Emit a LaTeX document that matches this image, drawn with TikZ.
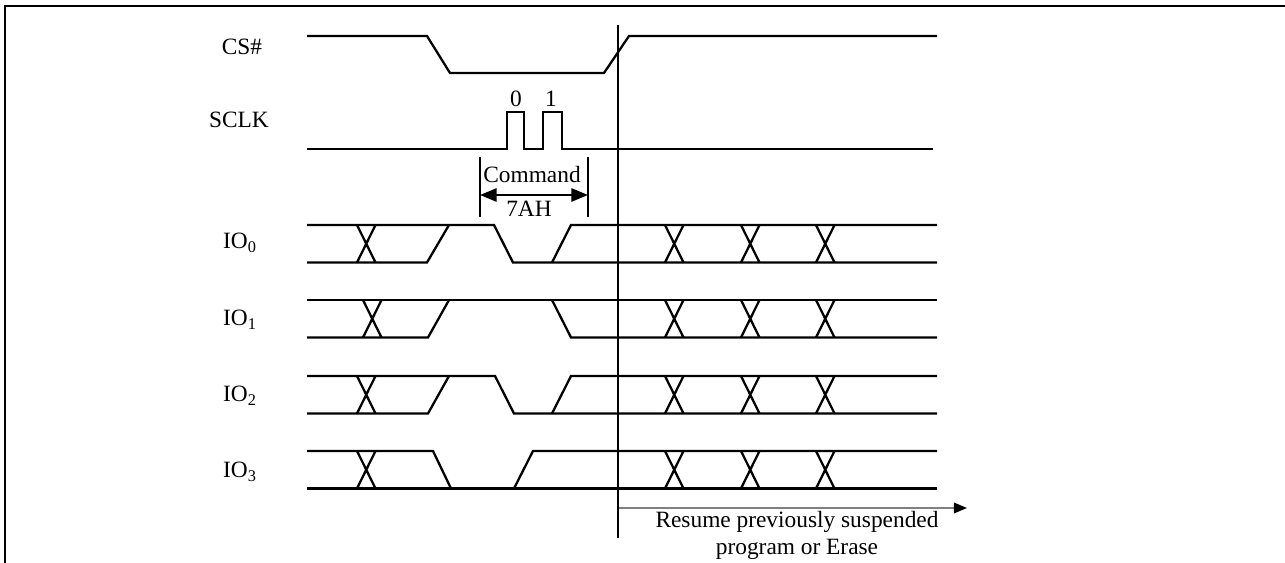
\documentclass[tikz,border=0pt]{standalone}
\usepackage{fontspec}
\setmainfont{Liberation Serif}
\usepackage{tikz}
\usetikzlibrary{arrows.meta,positioning}
\tikzset{
  sig/.style={line width=1.3pt,line join=miter},
  lbl/.style={font=\fontsize{13.3}{15.3}\selectfont,inner sep=0pt,anchor=base},
}
% croisement de bus : x gauche, y haut
\newcommand{\busX}[2]{\draw[sig] (#1,#2) -- ++(18.5,37.5) (#1,#2+37.5) -- ++(18.5,-37.5);}

\begin{document}
\begin{tikzpicture}[x=0.02cm,y=-0.02cm]
  \useasboundingbox (0,0) rectangle (1285,563);
  % cadre
  \draw[line width=1.4pt] (5,563) -- (5,6) -- (1285,6);
  % noms des signaux
  \node[lbl] (cs) at (242,55) {CS\#};
  \node[lbl] (sclk) at (239,128) {SCLK};
  \node[lbl] (io0) at (240,249) {IO\textsubscript{0}};
  \node[lbl] (io1) at (240,326) {IO\textsubscript{1}};
  \node[lbl] (io2) at (240,402) {IO\textsubscript{2}};
  \node[lbl] (io3) at (240,478) {IO\textsubscript{3}};
  % CS# et SCLK
  \draw[sig] (307,36) -- (427,36) -- (450,73) -- (604,73) -- (629,36) -- (937,36);
  \draw[sig] (307,149) -- (507,149) -- (507,112) -- (524,112) -- (524,149) -- (543,149)
        -- (543,112) -- (562,112) -- (562,149) -- (933,149);
  \node[lbl] (clk0) at (516,107) {0};
  \node[lbl] (clk1) at (551,107) {1};
  % commande 7AH
  \coordinate (cmdL) at (480,195);
  \coordinate (cmdR) at (588,195);
  \draw[sig] (480,157) -- (480,217) (588,157) -- (588,217);
  \draw[line width=1.3pt,{Triangle[length=9.5pt,width=7.5pt]}-{Triangle[length=9.5pt,width=7.5pt]}] (cmdL) -- (cmdR);
  \node[lbl] (cmd) at (532,183) {Command};
  \node[lbl] (cmdval) at (529,217) {7AH};
  % IO0
  \draw[sig] (307,225) -- (494,225) -- (513,262.5) -- (937,262.5);
  \draw[sig] (307,262.5) -- (427,262.5) -- (449,225);
  \draw[sig] (552,262.5) -- (571,225) -- (937,225);
  \busX{357}{225}
  % IO1
  \draw[sig] (307,300) -- (937,300);
  \draw[sig] (307,337.5) -- (428,337.5) -- (449,300);
  \draw[sig] (552,300) -- (571,337.5) -- (937,337.5);
  \busX{363}{300}
  % IO2
  \draw[sig] (307,376) -- (495,376) -- (514,413.5) -- (937,413.5);
  \draw[sig] (307,413.5) -- (428,413.5) -- (449,376);
  \draw[sig] (552,413.5) -- (571,376) -- (937,376);
  \busX{357}{376}
  % IO3
  \draw[sig] (307,488.5) -- (937,488.5);
  \draw[sig] (307,451) -- (433,451) -- (451,488.5);
  \draw[sig] (514,488.5) -- (533,451) -- (937,451);
  \busX{357}{451}
  % reprise
  \foreach \y in {225,300,376,451}
    \foreach \x in {665,741,816} {\busX{\x}{\y}}
  \draw[sig] (618,25) -- (618,538);
  \coordinate (resume) at (619,508);
  \coordinate (resumeEnd) at (967,508);
  \draw[line width=1.2pt,gray,-{Triangle[black,length=7.5pt,width=6pt]}] (resume) -- (resumeEnd);
  \node[lbl,anchor=north,align=center] (resumetxt) at (797,511) {Resume previously suspended\\program or Erase};
\end{tikzpicture}
\end{document}
